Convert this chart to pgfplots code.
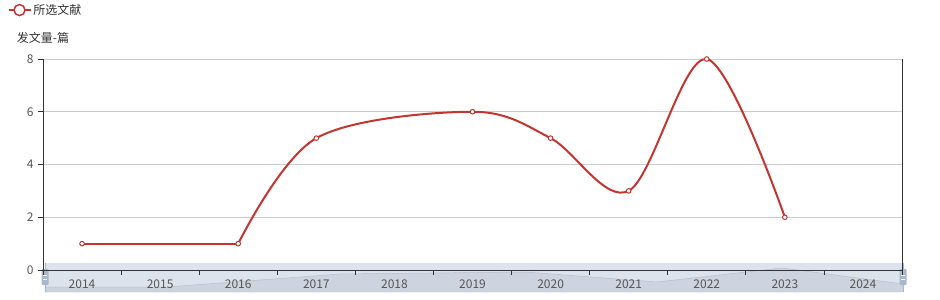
\documentclass[border=0pt]{standalone}
\usepackage{pgfplots}
\pgfplotsset{compat=1.18}
\usepackage{fontspec}
\setmainfont{Noto Sans CJK SC}
\definecolor{ecred}{HTML}{C23531}
\definecolor{axcol}{HTML}{333333}
\definecolor{labcol}{HTML}{555555}
\definecolor{gridcol}{HTML}{CCCCCC}
\definecolor{slbg}{HTML}{DDE3EC}
\definecolor{slshadow}{HTML}{CDD4E0}
\definecolor{slhandle}{HTML}{A7B7CC}
\begin{document}
\begin{tikzpicture}
\useasboundingbox (0,0) rectangle (940bp,300bp);
% data zoom slider
\begin{axis}[
  at={(45bp,8bp)}, anchor=south west,
  scale only axis, width=858bp, height=29bp,
  xmin=0, xmax=858, ymin=0, ymax=29,
  hide axis, clip=false,
]
\fill[slbg] (rel axis cs:0,0) rectangle (rel axis cs:1,1);
\addplot[fill=slshadow, draw=slshadow!90!black, line width=0.5bp] coordinates {
(0,5) (122,5) (295,18) (385,19) (480,20) (612,10) (737,24) (858,8)
} \closedcycle;
\draw[slhandle, line width=1bp] (rel axis cs:0,0) -- (rel axis cs:0,1);
\draw[slhandle, line width=1bp] (rel axis cs:1,0) -- (rel axis cs:1,1);
\fill[slhandle, rounded corners=1bp] (-3.5,7) rectangle (3.5,23);
\fill[slhandle, rounded corners=1bp] (854.5,7) rectangle (861.5,23);
\draw[white, line width=0.8bp] (-2,13) -- (2,13) (-2,17) -- (2,17);
\draw[white, line width=0.8bp] (856,13) -- (860,13) (856,17) -- (860,17);
\end{axis}
% main axis
\begin{axis}[
  at={(43bp,30bp)}, anchor=south west,
  scale only axis, width=859bp, height=211bp,
  xmin=-0.5, xmax=10.5, ymin=0, ymax=8,
  axis lines=left, axis line style={-, axcol, line width=0.8bp},
  xtick={0,...,10},
  xticklabels={2014,2015,2016,2017,2018,2019,2020,2021,2022,2023,2024},
  minor xtick={-0.5,0.5,...,10.5},
  every major x tick/.style={draw=none},
  every minor x tick/.style={draw=axcol, line width=0.8bp},
  ytick={0,2,4,6,8},
  every major y tick/.style={draw=axcol, line width=0.8bp},
  tick align=outside,
  major tick length=5bp, minor tick length=5bp,
  ymajorgrids, grid style={gridcol, line width=0.8bp},
  /pgf/number format/assume math mode=true,
  ticklabel style={font=\fontsize{12bp}{14bp}\selectfont, text=labcol},
  xticklabel style={yshift=-1bp},
  yticklabel style={xshift=-1bp},
  clip=false,
  legend style={at={(axis description cs:-0.041,1.232)}, anchor=west, draw=none, fill=none,
    font=\fontsize{12bp}{14bp}\selectfont, text=axcol, inner sep=0pt, outer sep=0pt,
    legend cell align=left},
  legend image code/.code={
    \draw[ecred, line width=1.5bp] (0bp,0bp) -- (22bp,0bp);
    \draw[ecred, fill=white, line width=1.5bp] (11bp,0bp) circle (5.5bp);
  },
]
\addplot[ecred, line width=2bp, smooth, tension=0.55, forget plot]
  coordinates {(2,1) (3,5) (5,6) (6,5) (7,3) (8,8) (9,2)};
\addplot[ecred, line width=2bp, forget plot]
  coordinates {(0,1) (2,1)};
\addplot[only marks, mark=*, mark size=2.3bp, mark options={fill=white, draw=ecred, line width=1bp}, ecred]
  coordinates {(0,1) (2,1) (3,5) (5,6) (6,5) (7,3) (8,8) (9,2)};
\addlegendentry{所选文献}
\draw[axcol, line width=0.8bp] (rel axis cs:1,0) -- (rel axis cs:1,1);
\node[font=\fontsize{12bp}{14bp}\selectfont, text=axcol] at ([yshift=21bp]rel axis cs:0,1) {发文量-篇};
\end{axis}
\end{tikzpicture}
\end{document}
